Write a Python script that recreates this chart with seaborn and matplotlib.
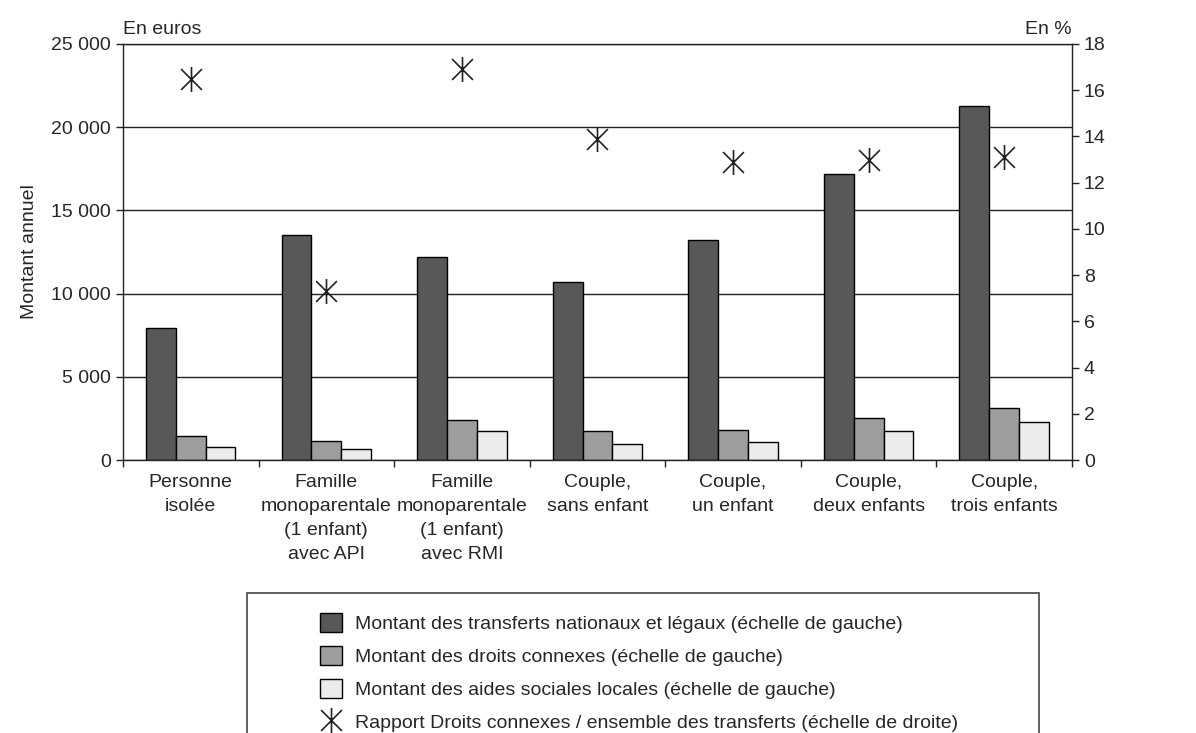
import numpy as np
import pandas as pd
import seaborn as sns
import matplotlib.pyplot as plt
from matplotlib.path import Path
from matplotlib.patches import Patch, Rectangle
from matplotlib.lines import Line2D
from matplotlib.ticker import FuncFormatter, FixedLocator

# --- data ---
categories = [
    "Personne\nisolée",
    "Famille\nmonoparentale\n(1 enfant)\navec API",
    "Famille\nmonoparentale\n(1 enfant)\navec RMI",
    "Couple,\nsans enfant",
    "Couple,\nun enfant",
    "Couple,\ndeux enfants",
    "Couple,\ntrois enfants",
]
transferts = [7950, 13500, 12180, 10680, 13240, 17210, 21250]
droits_connexes = [1460, 1140, 2400, 1740, 1820, 2500, 3100]
aides_locales = [760, 680, 1740, 980, 1060, 1740, 2260]
rapport_pct = [16.5, 7.3, 16.9, 13.9, 12.9, 13.0, 13.1]

series_names = [
    "Montant des transferts nationaux et légaux (échelle de gauche)",
    "Montant des droits connexes (échelle de gauche)",
    "Montant des aides sociales locales (échelle de gauche)",
]
ratio_name = "Rapport Droits connexes / ensemble des transferts (échelle de droite)"
bar_colors = ["#585858", "#9d9d9d", "#ececec"]

df = pd.DataFrame({
    "categorie": categories * 3,
    "serie": [series_names[0]] * 7 + [series_names[1]] * 7 + [series_names[2]] * 7,
    "montant": transferts + droits_connexes + aides_locales,
})

sns.set_style("ticks")
plt.rcParams["font.family"] = ["Liberation Sans", "DejaVu Sans"]
plt.rcParams["font.size"] = 14

fig = plt.figure(figsize=(11.96, 7.33), dpi=100)
ax = fig.add_axes([0.1028, 0.3724, 0.7935, 0.5676])

sns.barplot(data=df, x="categorie", y="montant", hue="serie", hue_order=series_names,
            order=categories, palette=bar_colors, width=0.66, gap=0,
            edgecolor="black", linewidth=1, saturation=1, legend=False, ax=ax)

ax.set_ylim(0, 25000)
ax.set_yticks(np.arange(0, 25001, 5000))
ax.yaxis.set_major_formatter(FuncFormatter(lambda v, p: f"{int(v):,}".replace(",", " ")))
ax.grid(axis="y", color="#222222", linewidth=1)
ax.set_axisbelow(True)
ax.set_xlabel("")
ax.set_ylabel("Montant annuel", labelpad=10)
ax.set_xlim(-0.5, 6.5)

# ticks between categories, labels centered under groups
ax.xaxis.set_minor_locator(FixedLocator(np.arange(-0.5, 7, 1)))
ax.tick_params(axis="x", which="major", length=0, pad=10)
ax.tick_params(axis="x", which="minor", length=5, width=1, color="#222222")
ax.tick_params(axis="y", length=5, width=1, color="#222222")
for lab in ax.get_xticklabels():
    lab.set_linespacing(1.55)

for side in ["left", "right", "top", "bottom"]:
    ax.spines[side].set_color("#222222")
    ax.spines[side].set_linewidth(1)

# right axis: ratio
ax2 = ax.twinx()
star = Path(
    [(-1, -1), (1, 1), (-1, 1), (1, -1), (0, -1.2), (0, 1.2)],
    [Path.MOVETO, Path.LINETO, Path.MOVETO, Path.LINETO, Path.MOVETO, Path.LINETO],
)
pos = np.arange(len(categories))
sns.scatterplot(x=pos, y=rapport_pct, marker=star, s=18 ** 2, color="#222222",
                edgecolor="#222222", linewidth=1.2, ax=ax2, legend=False, zorder=5)
ax2.set_ylim(0, 18)
ax2.set_yticks(np.arange(0, 19, 2))
ax2.tick_params(axis="y", length=5, width=1, color="#222222")
ax2.set_ylabel("")
for side in ["left", "right", "top", "bottom"]:
    ax2.spines[side].set_visible(False)

ax.text(0, 1.025, "En euros", transform=ax.transAxes, ha="left", va="baseline")
ax.text(1, 1.025, "En %", transform=ax.transAxes, ha="right", va="baseline")

# legend below, framed box running off the bottom edge
handles = [Patch(facecolor=c, edgecolor="black", linewidth=1) for c in bar_colors]
handles.append(Line2D([], [], marker=star, linestyle="none", color="#222222",
                      markersize=18, markeredgewidth=1.2))
fig.legend(handles, series_names + [ratio_name], loc="upper left",
           bbox_to_anchor=(310 / 1196, 1 - 603 / 733), frameon=False, borderpad=0,
           handlelength=1.13, handleheight=1.13, labelspacing=0.67, handletextpad=0.69)
fig.add_artist(Rectangle((247 / 1196, -0.02), (1039 - 247) / 1196, (733 - 593) / 733 + 0.02,
                         transform=fig.transFigure, fill=False, edgecolor="#444444",
                         linewidth=1.2))

fig.savefig("out.png", dpi=100)
